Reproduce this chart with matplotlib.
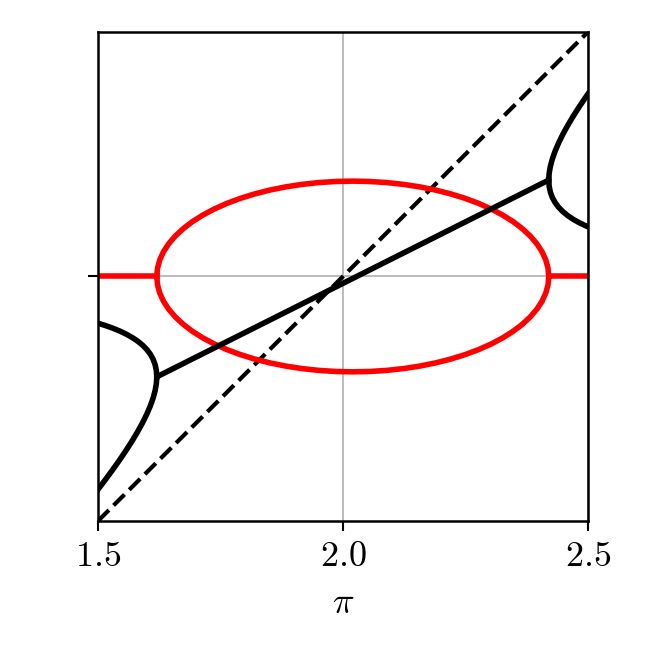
import matplotlib
matplotlib.use("Agg")
import matplotlib.pyplot as plt
import numpy as np

plt.rcParams["font.family"] = "serif"
plt.rcParams["font.serif"] = ["cmr10", "DejaVu Serif"]
plt.rcParams["mathtext.fontset"] = "cm"

# x tick labels
x_ticks = [1.5, 2.0, 2.5]
x_tick_labels = ["$1.5$", "$2.0$", "$2.5$"]

# diagonal reference (dashed)
diag_x = [1.5, 2.5]
diag_y = [-1.0, 1.0]

# black: single branch inside the ellipse region
mid_x = [1.62, 2.42]
mid_y = [-0.4104, 0.3944]

# black: left pair of branches (upper / lower), vertex at x=1.62
left_x = [1.5, 1.51529, 1.53051, 1.54483, 1.55817, 1.57044, 1.58155, 1.59142,
          1.59994, 1.60705, 1.61267, 1.61672, 1.61918, 1.62]
left_upper = [-0.1911, -0.2007, -0.2117, -0.2235, -0.2364, -0.2503, -0.2653, -0.2817,
              -0.2993, -0.3184, -0.3390, -0.3612, -0.3850, -0.4104]
left_lower = [-0.8712, -0.8307, -0.7892, -0.7485, -0.7089, -0.6703, -0.6328, -0.5967,
              -0.5618, -0.5284, -0.4965, -0.4662, -0.4375, -0.4104]

# black: right pair of branches, vertex at x=2.42
right_x = [2.42, 2.42082, 2.42328, 2.42733, 2.43295, 2.44006, 2.44858, 2.45845,
           2.46956, 2.48183, 2.49517, 2.5]
right_upper = [0.3944, 0.4215, 0.4502, 0.4805, 0.5124, 0.5458, 0.5807, 0.6168,
               0.6543, 0.6929, 0.7325, 0.7464]
right_lower = [0.3944, 0.3690, 0.3452, 0.3230, 0.3024, 0.2833, 0.2657, 0.2493,
               0.2343, 0.2204, 0.2075, 0.2033]

# red: flat parts and ellipse (half-height, mirrored below)
flat_left_x = [1.5, 1.62]
flat_right_x = [2.42, 2.5]
ellipse_x = [1.62, 1.62152, 1.62608, 1.63363, 1.64412, 1.65748, 1.67359, 1.69234,
             1.71358, 1.73716, 1.76288, 1.79057, 1.82, 1.85095, 1.88319, 1.91647,
             1.95054, 1.98514, 2.02, 2.05486, 2.08946, 2.12353, 2.15681, 2.18905,
             2.22, 2.24943, 2.27712, 2.30284, 2.32642, 2.34766, 2.36641, 2.38252,
             2.39588, 2.40637, 2.41392, 2.41848, 2.42]
ellipse_half = [0.0, 0.03399, 0.06772, 0.10094, 0.13339, 0.16482, 0.195, 0.2237,
                0.25069, 0.27577, 0.29876, 0.31947, 0.33775, 0.35346, 0.36648, 0.37671,
                0.38408, 0.38851, 0.39, 0.38851, 0.38408, 0.37671, 0.36648, 0.35346,
                0.33775, 0.31947, 0.29876, 0.27577, 0.25069, 0.2237, 0.195, 0.16482,
                0.13339, 0.10094, 0.06772, 0.03399, 0.0]

fig = plt.figure(figsize=(6.54, 6.54), dpi=100)
ax = fig.add_axes([0.1498, 0.2034, 0.7492, 0.7477])

lw = 4.0
ax.plot(diag_x, diag_y, color="black", lw=3.0, ls="--")

ax.plot(flat_left_x, [0, 0], color="red", lw=lw)
ax.plot(flat_right_x, [0, 0], color="red", lw=lw)
ax.plot(ellipse_x, ellipse_half, color="red", lw=lw)
ax.plot(ellipse_x, -np.asarray(ellipse_half), color="red", lw=lw)

ax.plot(mid_x, mid_y, color="black", lw=lw, solid_capstyle="round")
ax.plot(left_x, left_upper, color="black", lw=lw)
ax.plot(left_x, left_lower, color="black", lw=lw)
ax.plot(right_x, right_upper, color="black", lw=lw)
ax.plot(right_x, right_lower, color="black", lw=lw)

ax.set_xlim(1.5, 2.5)
ax.set_ylim(-1, 1)
ax.set_xticks(x_ticks)
ax.set_xticklabels(x_tick_labels)
ax.set_yticks([0])
ax.set_yticklabels([""])
ax.grid(True, color="#b0b0b0", lw=1.2)
ax.set_axisbelow(True)

for spine in ax.spines.values():
    spine.set_linewidth(1.8)
ax.tick_params(direction="out", length=7, width=1.5, labelsize=26, pad=8)
ax.set_xlabel(r"$\pi$", fontsize=26, labelpad=10)

fig.savefig("out.png", dpi=100)
